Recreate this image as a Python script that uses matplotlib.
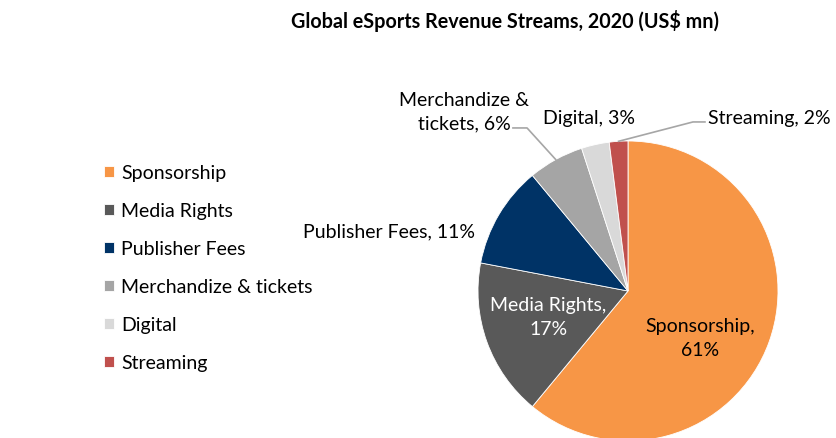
import numpy as np
import matplotlib
matplotlib.use("Agg")
import matplotlib.pyplot as plt

plt.rcParams['font.family'] = ['Lato', 'DejaVu Sans']

categories = ["Sponsorship", "Media Rights", "Publisher Fees",
              "Merchandize & tickets", "Digital", "Streaming"]
shares = [61, 17, 11, 6, 3, 2]
colors = ["#F79646", "#595959", "#003366", "#A5A5A5", "#D9D9D9", "#C0504D"]
title = "Global eSports Revenue Streams, 2020 (US$ mn)"

W, H = 837, 439
fig = plt.figure(figsize=(W / 100, H / 100), dpi=100)

# square axes holding a unit-radius pie
cx, cy, r = 628, 292, 150
ax = fig.add_axes([(cx - r) / W, (H - cy - r) / H, 2 * r / W, 2 * r / H])
wedges, _ = ax.pie(shares, colors=colors, startangle=90, counterclock=False,
                   radius=1, wedgeprops=dict(edgecolor="white", linewidth=0.6))
ax.set_xlim(-1, 1)
ax.set_ylim(-1, 1)
ax.set_aspect("equal")
ax.axis("off")

fs = 14
lab = dict(fontsize=fs, linespacing=1.45)

ax.text(0.48, -0.31, f"{categories[0]},\n{shares[0]}%", ha="center", va="center",
        color="black", **lab)
ax.text(-0.53, -0.17, f"{categories[1]},\n{shares[1]}%", ha="center", va="center",
        color="white", **lab)
ax.text(-1.02, 0.40, f"{categories[2]}, {shares[2]}%", ha="right", va="center",
        color="black", **lab)
ax.text(-1.09, 1.20, f"Merchandize &\ntickets, {shares[3]}%", ha="center",
        va="center", color="black", **lab)
ax.text(-0.26, 1.155, f"{categories[4]}, {shares[4]}%", ha="center", va="center",
        color="black", **lab)
ax.text(0.533, 1.155, f"{categories[5]}, {shares[5]}%", ha="left", va="center",
        color="black", **lab)

# leader lines from wedge midpoints
def mid(w):
    a = np.deg2rad((w.theta1 + w.theta2) / 2)
    return np.cos(a), np.sin(a)

mx, my = mid(wedges[3])
ax.plot([mx, -0.673, -0.767], [my, 1.087, 1.087], color="#A6A6A6", lw=1.2,
        clip_on=False)
sx, sy = mid(wedges[5])
ax.plot([sx, 0.433, 0.513], [sy, 1.127, 1.127], color="#A6A6A6", lw=1.2,
        clip_on=False)

fig.legend(wedges, categories, loc="upper left",
           bbox_to_anchor=(104 / W, (H - 165) / H), frameon=False,
           fontsize=fs, handlelength=0.5, handleheight=0.5, handletextpad=0.4,
           labelspacing=1.08, borderpad=0, borderaxespad=0)

fig.text(505 / W, 1 - 21 / H, title, ha="center", va="center",
         fontsize=14.2, fontweight="bold", color="black")

fig.savefig("out.png", dpi=100)
